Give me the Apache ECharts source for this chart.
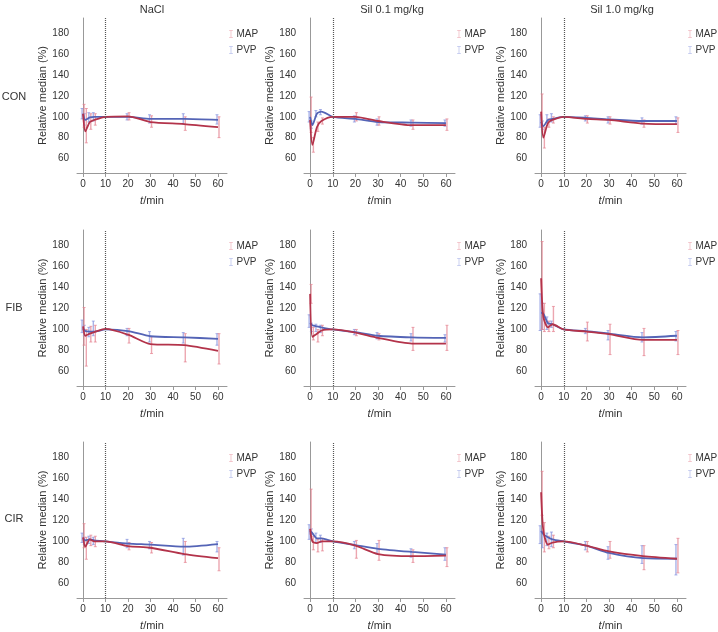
<!DOCTYPE html>
<html><head><meta charset="utf-8">
<script src="https://cdn.jsdelivr.net/npm/echarts@6/dist/echarts.min.js"></script>
<style>html,body{margin:0;padding:0;background:#fff}#c{width:718px;height:632px}</style>
</head><body><div id="c"></div>
<script>
// ---- data ----
const times = [0, 1, 3, 5, 10, 20, 30, 45, 60];
const columns = ['NaCl', 'Sil 0.1 mg/kg', 'Sil 1.0 mg/kg'];
const rows = ['CON', 'FIB', 'CIR'];
const xTicks = [0, 10, 20, 30, 40, 50, 60];
const yTicks = [60, 80, 100, 120, 140, 160, 180];
// each entry: [median, low, high] at the matching time point
const CON_NaCl_MAP = [[103,90,112],[86,75,108],[95,88,103],[97,92,103],[100,100,100],[100.5,97,104],[95,90,101],[93,87,100],[90,80,100]];
const CON_NaCl_PVP = [[103,98,108],[97,92,103],[99.5,95,104],[100,96,104],[100,100,100],[100,97,103],[98,94,102],[98,93,103],[97,93,102]];
const CON_Sil01_MAP = [[97,85,119],[73,66,80],[90,86,95],[96,93,99],[100,100,100],[100,96,104],[96,92,100],[92,88,97],[92,87,98]];
const CON_Sil01_PVP = [[100,95,105],[92,89,96],[103,100,106],[105,102,107],[100,100,100],[98,95,101],[95,92,98],[94.5,91,97],[94,91,97]];
const CON_Sil10_MAP = [[105,92,122],[80,70,90],[94,90,98],[97,94,100],[100,100,100],[98,94,101],[97,93,100],[93.5,90,97],[93,85,99]];
const CON_Sil10_PVP = [[95,90,102],[91,88,96],[97,94,102],[98,95,103],[100,100,100],[99,96,101],[97.5,94,100],[96,93,99],[96,93,100]];
const FIB_NaCl_MAP = [[103,85,121],[94,65,100],[96,88,103],[97.5,88,104],[100.5,100,100],[95,87,101],[86,77,93],[85,69,96],[79.5,67,96]];
const FIB_NaCl_PVP = [[101,97,109],[98.5,94,104],[98,93,102],[98,94,108],[100,100,100],[98.5,94,101],[93.5,88,98],[92.5,87,97],[91,85,96]];
const FIB_Sil01_MAP = [[134,125,143],[93,90,102],[96,88,100],[99,94,104],[100,100,100],[97,94,100],[92,90,96],[86.5,80,102],[86.5,80,104]];
const FIB_Sil01_PVP = [[106,102,114],[104,98,106],[103,98,105],[102,97,104],[100,100,100],[97.5,95,100],[94,91,97],[92.5,89,96],[92,88,95]];
const FIB_Sil10_MAP = [[149,100,184],[112,98,125],[102,98,108],[105,98,122],[100,100,100],[98,89,107],[95.5,76,105],[90,75,101],[90,76,99]];
const FIB_Sil10_PVP = [[116,99,134],[115,100,125],[106,100,112],[105,102,108],[100,100,100],[98.5,96,101],[96,90,99],[92.5,88,97],[94,89,98]];
const CIR_NaCl_MAP = [[104,94,117],[95,83,104],[102,96,106],[100,95,105],[100,100,100],[95.5,92,99],[94,89,99],[88,80,100],[84,72,94]];
const CIR_NaCl_PVP = [[103,99,108],[101,97,104],[102,98,105],[101,97,104],[100,100,100],[98,94,102],[97,93,100],[95,87,103],[97.5,90,100]];
const CIR_Sil01_MAP = [[112,107,150],[100,92,105],[98.5,90,102],[100,91,103],[100,100,100],[96,84,101],[88,82,101],[86,80,92],[86.5,76,94]];
const CIR_Sil01_PVP = [[110,102,116],[108,102,112],[103,99,108],[103,99,106],[100,100,100],[96.5,93,100],[93,88,98],[90,85,93],[87.5,82,94]];
const CIR_Sil10_MAP = [[147,125,167],[110,90,118],[97,93,105],[99,94,106],[100,100,100],[96,90,100],[90.5,84,100],[86,73,96],[83.5,70,103]];
const CIR_Sil10_PVP = [[110,98,115],[107,94,110],[104,96,108],[102,95,109],[100,100,100],[96,92,100],[89,83,95],[84,79,96],[83.5,68,97]];

const panels = [
  [CON_NaCl_MAP, CON_NaCl_PVP], [CON_Sil01_MAP, CON_Sil01_PVP], [CON_Sil10_MAP, CON_Sil10_PVP],
  [FIB_NaCl_MAP, FIB_NaCl_PVP], [FIB_Sil01_MAP, FIB_Sil01_PVP], [FIB_Sil10_MAP, FIB_Sil10_PVP],
  [CIR_NaCl_MAP, CIR_NaCl_PVP], [CIR_Sil01_MAP, CIR_Sil01_PVP], [CIR_Sil10_MAP, CIR_Sil10_PVP]
];

// ---- layout / style ----
const FONT = 'Liberation Sans';
const colLeft = [77, 304, 535];
const colWidth = [150, 151, 151];
const rowTop = [18, 230, 442];
const rowHeight = [155, 156, 156];
const MAP_LINE = '#b3334a', MAP_ERR = 'rgba(228,128,142,0.7)';
const PVP_LINE = '#5464b6', PVP_ERR = 'rgba(132,146,222,0.7)';
const ICON = 'path://M0,0H10V1.5H5.75V18.5H10V20H0V18.5H4.25V1.5H0Z';

const grid = [], xAxis = [], yAxis = [], series = [], legend = [], graphic = [];

function errRender(offset, color) {
  return function (params, api) {
    const x = api.value(0);
    const lo = api.coord([x, api.value(1)]);
    const hi = api.coord([x, api.value(2)]);
    const px = lo[0] + offset;
    if (Math.abs(lo[1] - hi[1]) < 0.5) return null;
    const cap = 1.5;
    return {
      type: 'group',
      children: [
        {type: 'line', shape: {x1: px, y1: lo[1], x2: px, y2: hi[1]}, style: {stroke: color, lineWidth: 1.4}},
        {type: 'line', shape: {x1: px - cap, y1: lo[1], x2: px + cap, y2: lo[1]}, style: {stroke: color, lineWidth: 1}},
        {type: 'line', shape: {x1: px - cap, y1: hi[1], x2: px + cap, y2: hi[1]}, style: {stroke: color, lineWidth: 1}}
      ]
    };
  };
}

for (let r = 0; r < 3; r++) {
  for (let c = 0; c < 3; c++) {
    const i = r * 3 + c;
    grid.push({left: colLeft[c], top: rowTop[r], width: colWidth[c], height: rowHeight[r]});
    xAxis.push({
      type: 'value', gridIndex: i, min: -2.7, max: 64,
      name: '{i|t}/min', nameLocation: 'middle', nameGap: 22,
      nameTextStyle: {fontFamily: FONT, fontSize: 11, color: '#333', rich: {i: {fontStyle: 'italic', fontFamily: FONT, fontSize: 11, color: '#333'}}},
      axisLine: {lineStyle: {color: '#999'}},
      axisTick: {show: true, length: 4, customValues: xTicks, lineStyle: {color: '#999'}},
      axisLabel: {customValues: xTicks, margin: 6, fontFamily: FONT, fontSize: 10, color: '#333'},
      splitLine: {show: false}
    });
    yAxis.push({
      type: 'value', gridIndex: i, min: 46, max: 195,
      name: 'Relative median (%)', nameLocation: 'middle', nameGap: 29, nameRotate: 90,
      nameTextStyle: {fontFamily: FONT, fontSize: 11, color: '#333'},
      axisLine: {show: true, lineStyle: {color: '#999'}},
      axisTick: {show: false, customValues: yTicks},
      axisLabel: {customValues: yTicks, margin: 8, fontFamily: FONT, fontSize: 10, color: '#333'},
      splitLine: {show: false}
    });
    const [mapD, pvpD] = panels[i];
    series.push({
      name: 'PVP', type: 'line', xAxisIndex: i, yAxisIndex: i, smooth: 0.25, symbol: 'none',
      lineStyle: {color: PVP_LINE, width: 1.8}, itemStyle: {color: PVP_LINE},
      data: times.map((t, k) => [t, pvpD[k][0]]), z: 3
    });
    series.push({
      name: 'MAP', type: 'line', xAxisIndex: i, yAxisIndex: i, smooth: 0.25, symbol: 'none',
      lineStyle: {color: MAP_LINE, width: 1.8}, itemStyle: {color: MAP_LINE},
      data: times.map((t, k) => [t, mapD[k][0]]), z: 4,
      markLine: {silent: true, symbol: 'none', label: {show: false},
        lineStyle: {type: [1, 1], color: '#555', width: 1.2}, data: [{xAxis: 10}]}
    });
    series.push({
      name: 'PVP', type: 'custom', xAxisIndex: i, yAxisIndex: i, renderItem: errRender(-1, PVP_ERR),
      encode: {x: 0, y: [1, 2]}, data: times.map((t, k) => [t, pvpD[k][1], pvpD[k][2]]), z: 2
    });
    series.push({
      name: 'MAP', type: 'custom', xAxisIndex: i, yAxisIndex: i, renderItem: errRender(1, MAP_ERR),
      encode: {x: 0, y: [1, 2]}, data: times.map((t, k) => [t, mapD[k][1], mapD[k][2]]), z: 2
    });
    legend.push({
      left: colLeft[c] + colWidth[c] + 2, top: rowTop[r] + 11, orient: 'vertical', padding: 0,
      itemWidth: 5, itemHeight: 8, itemGap: 6, selectedMode: false,
      textStyle: {fontFamily: FONT, fontSize: 10, color: '#333', padding: [0, 0, 0, -2]},
      data: [
        {name: 'MAP', icon: ICON, itemStyle: {color: MAP_ERR, borderWidth: 0}},
        {name: 'PVP', icon: ICON, itemStyle: {color: PVP_ERR, borderWidth: 0}}
      ]
    });
  }
}

const titleX = [152, 392, 622];
columns.forEach((t, c) => graphic.push({type: 'text', x: titleX[c], y: 4,
  style: {text: t, fontFamily: FONT, fontSize: 11, fill: '#333', align: 'center', verticalAlign: 'top'}}));
const rowY = [97, 308, 519];
rows.forEach((t, r) => graphic.push({type: 'text', x: 14, y: rowY[r],
  style: {text: t, fontFamily: FONT, fontSize: 11, fill: '#333', align: 'center', verticalAlign: 'middle'}}));

const chart = echarts.init(document.getElementById('c'), null, {renderer: 'canvas'});
chart.setOption({
  animation: false,
  backgroundColor: '#fff',
  grid, xAxis, yAxis, series, legend, graphic
});
</script>
</body></html>
